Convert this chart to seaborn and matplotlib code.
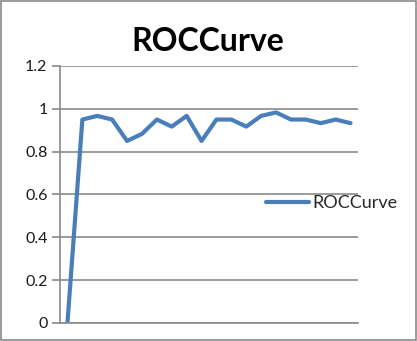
import matplotlib
matplotlib.use("Agg")
import matplotlib.pyplot as plt
import seaborn as sns
import pandas as pd
from matplotlib.patches import Rectangle
from matplotlib.lines import Line2D

categories = list(range(1, 21))
roc_values = [0.0, 0.95, 0.967, 0.95, 0.85, 0.883, 0.95, 0.917, 0.967, 0.85,
              0.95, 0.95, 0.917, 0.967, 0.983, 0.95, 0.95, 0.933, 0.95, 0.933]
y_ticks = [0, 0.2, 0.4, 0.6, 0.8, 1.0, 1.2]
y_tick_labels = ["0", "0.2", "0.4", "0.6", "0.8", "1", "1.2"]
series_name = "ROCCurve"
title = "ROCCurve"

sns.set_theme(style="white")
plt.rcParams["font.family"] = ["Lato", "DejaVu Sans"]

df = pd.DataFrame({"x": list(range(len(categories))), "y": roc_values, "s": series_name})

fig = plt.figure(figsize=(4.17, 3.41), dpi=100)
ax = fig.add_axes([0.1439, 0.0528, 0.8585 - 0.1439, 0.8065 - 0.0528])
sns.lineplot(data=df, x="x", y="y", hue="s", palette=["#4A7EBB"], linewidth=3.0,
             ax=ax, legend=False)

ax.set_xlim(-0.5, len(categories) - 0.5)
ax.set_ylim(0, 1.2)
ax.set_yticks(y_ticks)
ax.set_yticklabels(y_tick_labels, fontsize=11.5, color="#1a1a1a")
ax.set_xticks([])
ax.set_xlabel("")
ax.set_ylabel("")
ax.yaxis.grid(True, color="#8a8a8a", linewidth=1.2)
ax.set_axisbelow(True)
for side in ["top", "right"]:
    ax.spines[side].set_visible(False)
for side in ["left", "bottom"]:
    ax.spines[side].set_visible(True)
    ax.spines[side].set_color("#8a8a8a")
    ax.spines[side].set_linewidth(1.2)
ax.tick_params(axis="y", which="both", left=True, length=6, width=1.2, color="#8a8a8a", pad=3)

fig.text(0.4976, 0.877, title, ha="center", va="center", fontsize=23, fontweight="bold", color="black")

handle = Line2D([0], [0], color="#4A7EBB", linewidth=3.0)
fig.legend([handle], [series_name], loc="center left", bbox_to_anchor=(0.638, 0.405),
           frameon=False, fontsize=13, handlelength=2.4, handletextpad=0.15, borderpad=0,
           borderaxespad=0)

fig.patches.append(Rectangle((0.002, 0.003), 0.995, 0.994, transform=fig.transFigure,
                             fill=False, edgecolor="#8a8a8a", linewidth=1.2))

fig.savefig("out.png", dpi=100)
